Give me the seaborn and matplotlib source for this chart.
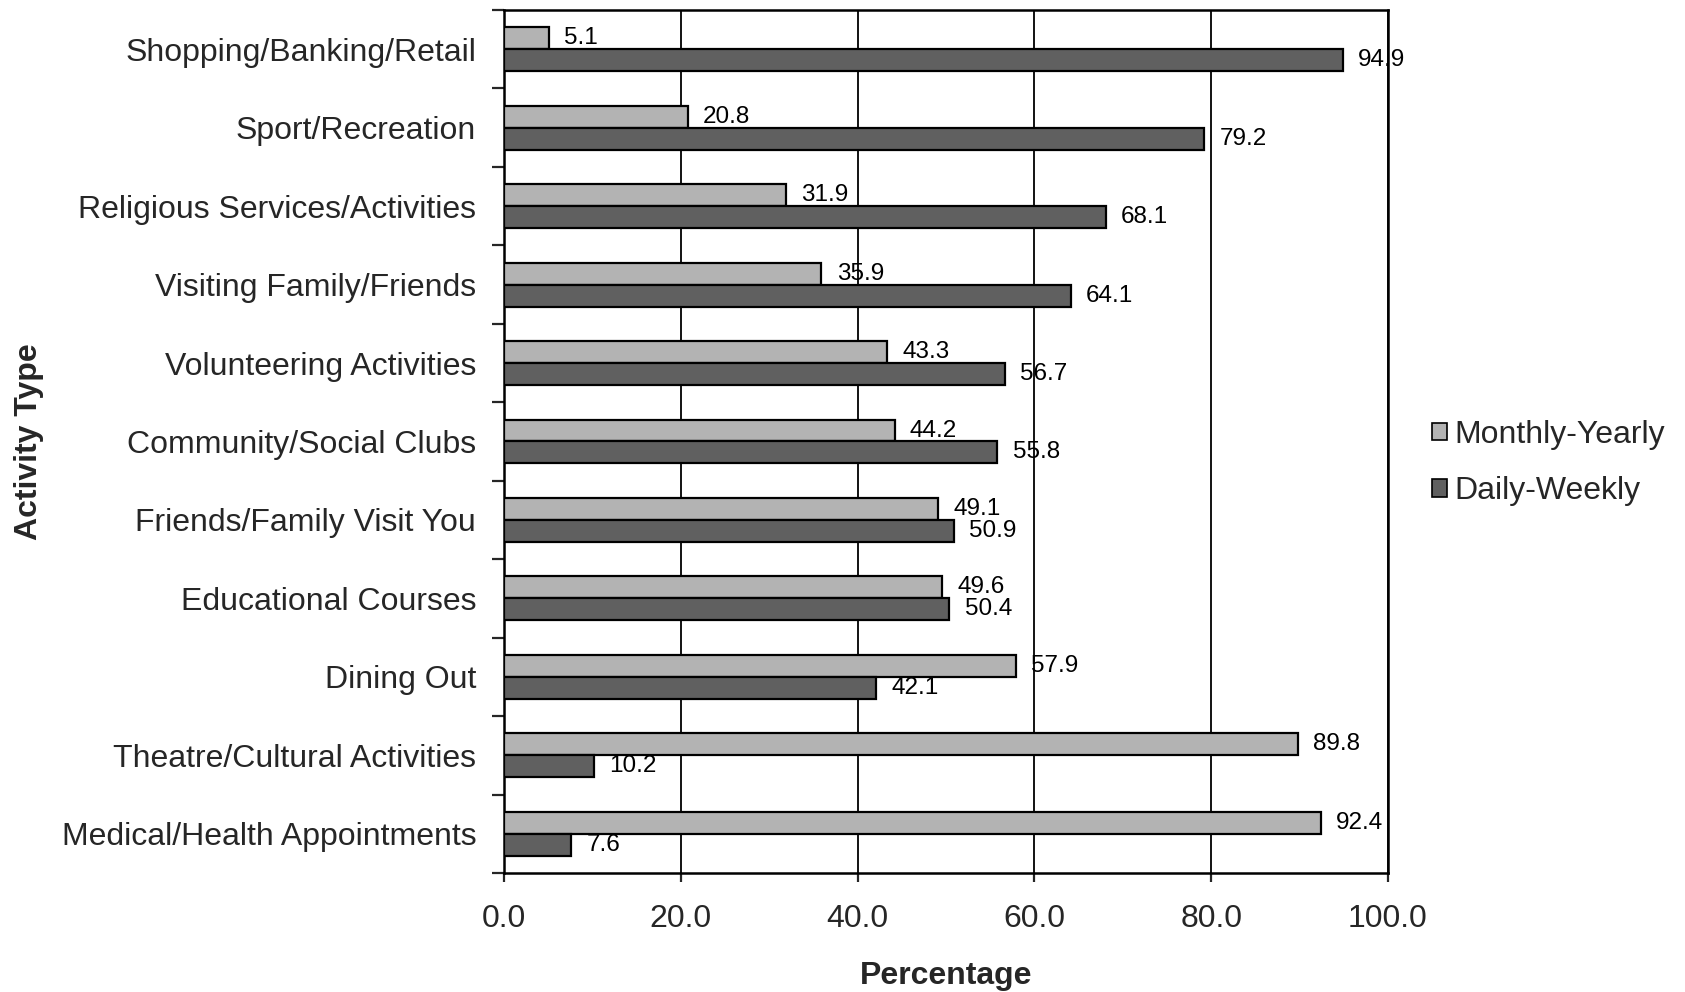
import numpy as np
import pandas as pd
import seaborn as sns
import matplotlib.pyplot as plt
from matplotlib.ticker import FixedLocator

# data
activities = ['Shopping/Banking/Retail', 'Sport/Recreation', 'Religious Services/Activities',
              'Visiting Family/Friends', 'Volunteering Activities', 'Community/Social Clubs',
              'Friends/Family Visit You', 'Educational Courses', 'Dining Out',
              'Theatre/Cultural Activities', 'Medical/Health Appointments']
monthly_yearly = [5.1, 20.8, 31.9, 35.9, 43.3, 44.2, 49.1, 49.6, 57.9, 89.8, 92.4]
daily_weekly = [94.9, 79.2, 68.1, 64.1, 56.7, 55.8, 50.9, 50.4, 42.1, 10.2, 7.6]
series = ['Monthly-Yearly', 'Daily-Weekly']
x_ticks = [0, 20, 40, 60, 80, 100]

df = pd.DataFrame({'activity': activities * 2,
                   'pct': monthly_yearly + daily_weekly,
                   'freq': [series[0]] * len(activities) + [series[1]] * len(activities)})

sns.set_style('white')
plt.rcParams['font.family'] = ['Liberation Sans', 'DejaVu Sans']

fig = plt.figure(figsize=(16.85, 9.92), dpi=100)
ax = fig.add_axes([0.2991, 0.1200, 0.8237 - 0.2991, 0.9899 - 0.1200])

sns.barplot(data=df, y='activity', x='pct', hue='freq', hue_order=series, orient='h',
            palette=['#b3b3b3', '#606060'], width=0.56, edgecolor='black', linewidth=1.6,
            ax=ax, legend=False, zorder=3)

for cont in ax.containers:
    ax.bar_label(cont, fmt='%.1f', padding=11, fontsize=17.5, color='black')

ax.set_xlim(0, 100)
ax.set_xticks(x_ticks)
ax.set_xticklabels([f'{v:.1f}' for v in x_ticks])
ax.grid(axis='x', color='black', linewidth=1.3)
ax.set_axisbelow(True)

for sp in ax.spines.values():
    sp.set_visible(True)
    sp.set_color('black')
    sp.set_linewidth(1.8)

ax.tick_params(axis='x', which='major', direction='out', length=6.5, width=1.6,
               labelsize=23, pad=16, bottom=True)
ax.tick_params(axis='y', which='major', length=0, labelsize=23, pad=20)
ax.yaxis.set_minor_locator(FixedLocator(np.arange(-0.5, len(activities), 1.0)))
ax.tick_params(axis='y', which='minor', direction='out', length=8.6, width=1.6, left=True)

ax.set_xlabel('Percentage', fontsize=23, fontweight='bold', va='center')
ax.xaxis.set_label_coords(0.5, -0.119)
ax.set_ylabel('Activity Type', fontsize=23, fontweight='bold', va='center')
ax.yaxis.set_label_coords(-0.537, 0.5)

handles = [plt.Rectangle((0, 0), 1, 1, facecolor=c, edgecolor='black', linewidth=1.2)
           for c in ['#b3b3b3', '#606060']]
fig.legend(handles, series, loc='center left', bbox_to_anchor=(0.850, 0.533),
           frameon=False, fontsize=23, handlelength=0.45, handleheight=0.45,
           handletextpad=0.25, labelspacing=0.82, borderpad=0, borderaxespad=0)

fig.savefig('out.png', dpi=100)
